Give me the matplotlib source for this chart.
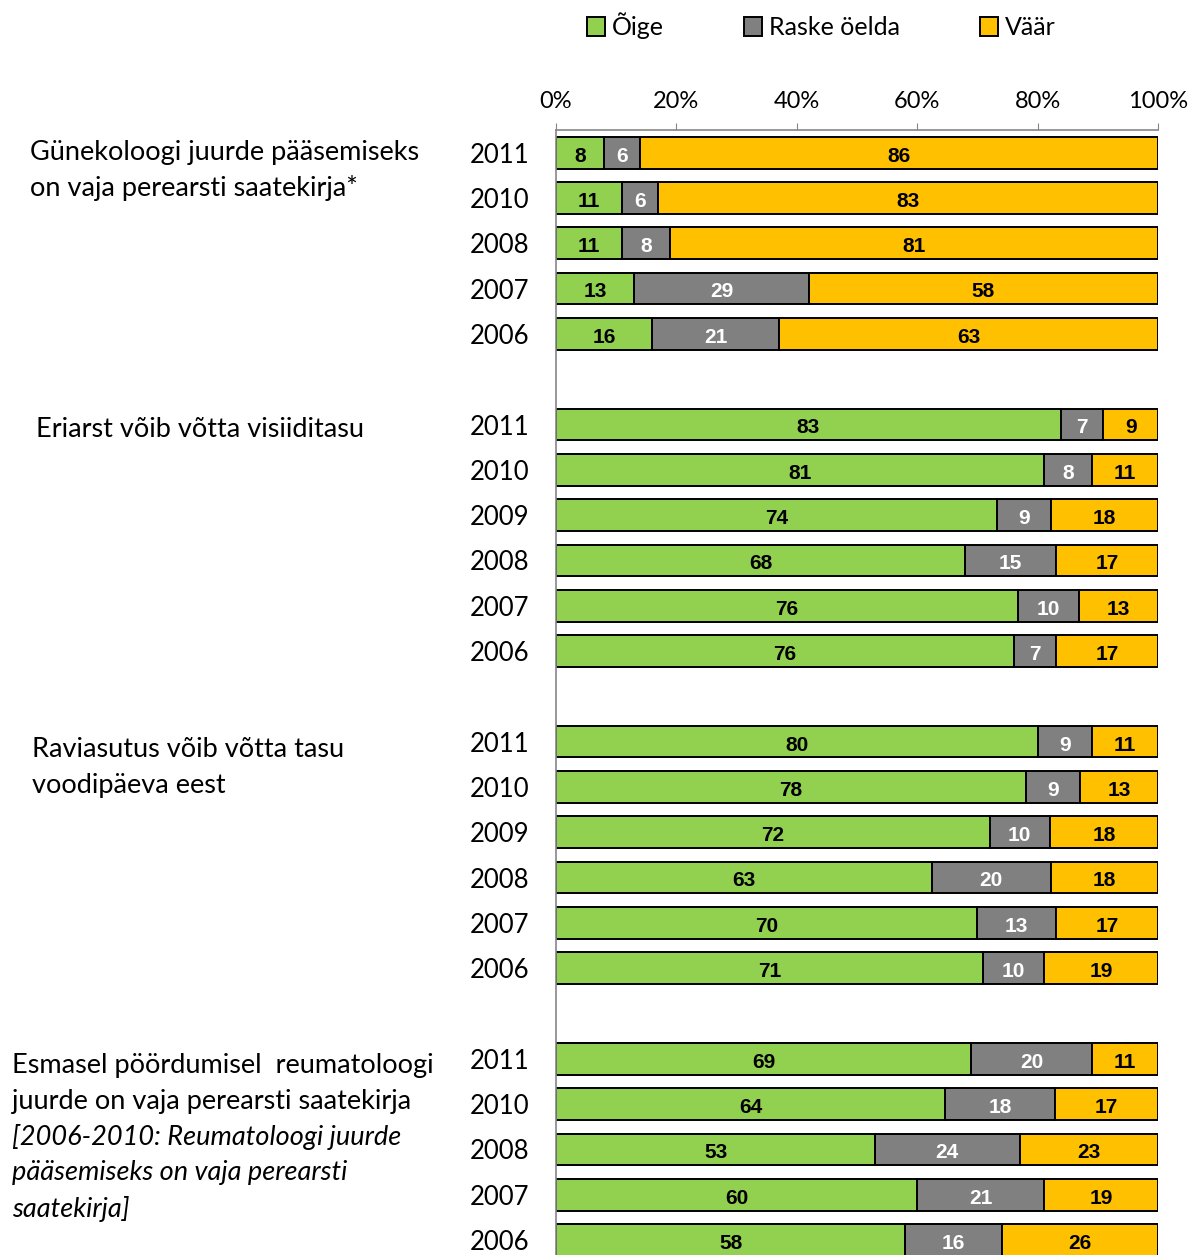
import numpy as np
import matplotlib
matplotlib.use("Agg")
import matplotlib.pyplot as plt
import matplotlib.transforms as mtransforms
from matplotlib.ticker import PercentFormatter

# --- data ---
years_g1 = ["2011", "2010", "2008", "2007", "2006"]
oige_g1 = [8, 11, 11, 13, 16]
raske_g1 = [6, 6, 8, 29, 21]
vaar_g1 = [86, 83, 81, 58, 63]

years_g2 = ["2011", "2010", "2009", "2008", "2007", "2006"]
oige_g2 = [83, 81, 74, 68, 76, 76]
raske_g2 = [7, 8, 9, 15, 10, 7]
vaar_g2 = [9, 11, 18, 17, 13, 17]

years_g3 = ["2011", "2010", "2009", "2008", "2007", "2006"]
oige_g3 = [80, 78, 72, 63, 70, 71]
raske_g3 = [9, 9, 10, 20, 13, 10]
vaar_g3 = [11, 13, 18, 18, 17, 19]

years_g4 = ["2011", "2010", "2008", "2007", "2006"]
oige_g4 = [69, 64, 53, 60, 58]
raske_g4 = [20, 18, 24, 21, 16]
vaar_g4 = [11, 17, 23, 19, 26]

group_labels = [
    [("Günekoloogi juurde pääsemiseks", "normal"),
     ("on vaja perearsti saatekirja*", "normal")],
    [("Eriarst võib võtta visiiditasu", "normal")],
    [("Raviasutus võib võtta tasu", "normal"),
     ("voodipäeva eest", "normal")],
    [("Esmasel pöördumisel  reumatoloogi", "normal"),
     ("juurde on vaja perearsti saatekirja", "normal"),
     ("[2006-2010: Reumatoloogi juurde", "italic"),
     ("pääsemiseks on vaja perearsti", "italic"),
     ("saatekirja]", "italic")],
]
series_names = ["Õige", "Raske öelda", "Väär"]
colors = ["#92D050", "#808080", "#FFC000"]
text_colors = ["black", "white", "black"]

groups = [
    (years_g1, oige_g1, raske_g1, vaar_g1),
    (years_g2, oige_g2, raske_g2, vaar_g2),
    (years_g3, oige_g3, raske_g3, vaar_g3),
    (years_g4, oige_g4, raske_g4, vaar_g4),
]

# build slot positions: one empty slot between groups
pos, ylabels, vals, group_start = [], [], [], []
slot = 0
for years, a, b, c in groups:
    group_start.append(slot)
    for i, y in enumerate(years):
        pos.append(slot)
        ylabels.append(y)
        vals.append((a[i], b[i], c[i]))
        slot += 1
    slot += 1
pos = np.array(pos)
vals = np.array(vals, dtype=float)
shares = vals / vals.sum(axis=1, keepdims=True) * 100  # 100% stacked

body_font = "Lato"

fig = plt.figure(figsize=(11.95, 12.55), dpi=100)
ax = fig.add_axes([0.4653, -0.0061, 0.5038, 0.9025])

left = np.zeros(len(pos))
handles = []
for k in range(3):
    h = ax.barh(pos, shares[:, k], left=left, height=0.7, color=colors[k],
                edgecolor="black", linewidth=1.4, label=series_names[k])
    handles.append(h)
    for j in range(len(pos)):
        ax.text(left[j] + shares[j, k] / 2, pos[j] + 0.03, f"{int(vals[j, k])}",
                ha="center", va="center_baseline", fontsize=15,
                fontweight="bold", color=text_colors[k],
                family="Liberation Sans")
    left = left + shares[:, k]

ax.set_xlim(0, 100)
ax.set_ylim(pos[-1] + 0.5, -0.5)
ax.xaxis.tick_top()
ax.xaxis.set_major_formatter(PercentFormatter(decimals=0))
ax.set_xticks(np.arange(0, 101, 20))
ax.set_yticks(pos)
ax.set_yticklabels(ylabels)
ax.tick_params(axis="y", length=0, pad=19, labelsize=18.5)
ax.tick_params(axis="x", direction="out", length=5, color="#868686",
               labelsize=17, pad=8)
for lab in ax.get_xticklabels() + ax.get_yticklabels():
    lab.set_family(body_font)
for s in ["right", "bottom"]:
    ax.spines[s].set_visible(False)
for s in ["top", "left"]:
    ax.spines[s].set_color("#868686")
    ax.spines[s].set_linewidth(1.2)

# group descriptions on the left
trans = mtransforms.blended_transform_factory(fig.transFigure, ax.transData)
x_left = [0.025, 0.030, 0.027, 0.010]
y_off = [0.0, 0.1, 0.18, 0.15]
for g, lines in enumerate(group_labels):
    for i, (txt, style) in enumerate(lines):
        ax.text(x_left[g], group_start[g] + y_off[g] + i * 0.79, txt,
                transform=trans, ha="left", va="center", fontsize=19.5,
                style=style, family=body_font, clip_on=False)

fig.legend(handles=handles, labels=series_names, loc="upper center",
           bbox_to_anchor=(0.687, 1.008), ncol=3, frameon=False,
           handlelength=0.75, handleheight=0.75, handletextpad=0.25,
           columnspacing=3.2, prop={"family": body_font, "size": 18})

fig.savefig("out.png", dpi=100)
